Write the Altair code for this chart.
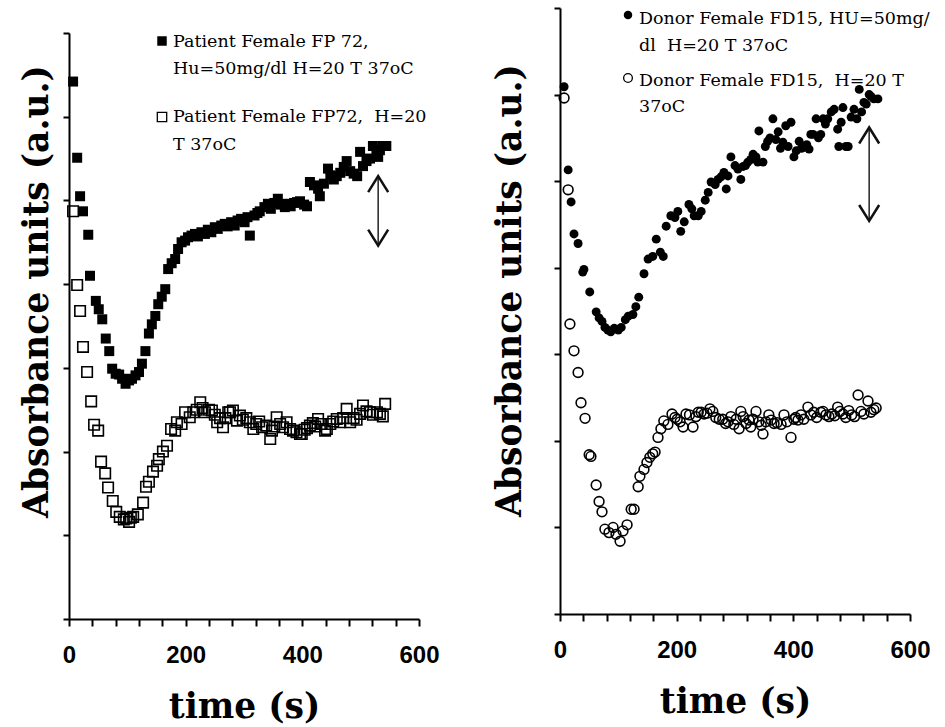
import altair as alt
import pandas as pd

# ---------------- data ----------------
# Left panel: Patient Female FP72
lf_t = [7, 14, 19, 24, 33, 36, 46, 51, 57, 63, 69, 74, 80, 86, 91, 97, 103, 108, 114, 120,
        125, 131, 137, 142, 148, 153, 159, 165, 170, 176, 182, 187, 193, 199, 204, 210, 216,
        221, 227, 233, 238, 244, 250, 255, 261, 267, 272, 278, 284, 289, 295, 301, 306, 310,
        318, 323, 327, 335, 341, 346, 352, 358, 363, 370, 374, 380, 386, 391, 396, 403, 408,
        413, 420, 427, 430, 437, 444, 448, 454, 459, 465, 471, 476, 482, 488, 494, 499, 504,
        510, 516, 521, 527, 530, 533, 538, 544]
lf_y = [6.42, 5.51, 5.05, 4.87, 4.59, 4.10, 3.80, 3.70, 3.58, 3.35, 3.20, 2.99, 2.93, 2.92,
        2.87, 2.81, 2.85, 2.87, 2.91, 2.95, 3.05, 3.20, 3.41, 3.52, 3.62, 3.76, 3.85, 3.94,
        4.18, 4.25, 4.30, 4.42, 4.50, 4.52, 4.56, 4.58, 4.60, 4.57, 4.62, 4.60, 4.65, 4.62,
        4.68, 4.66, 4.70, 4.72, 4.69, 4.74, 4.70, 4.76, 4.78, 4.74, 4.80, 4.58, 4.82, 4.85,
        4.87, 4.92, 4.96, 4.90, 4.97, 5.02, 4.95, 4.92, 4.96, 4.93, 4.97, 4.98, 4.99, 4.95,
        4.93, 5.22, 5.18, 5.14, 5.05, 5.20, 5.38, 5.30, 5.25, 5.29, 5.33, 5.40, 5.47, 5.35,
        5.32, 5.29, 5.58, 5.41, 5.47, 5.50, 5.65, 5.55, 5.52, 5.60, 5.65, 5.65]

lo_t = [7, 14, 19, 24, 31, 38, 43, 50, 55, 62, 67, 75, 81, 87, 94, 98, 103, 106, 110, 118,
        127, 132, 137, 144, 151, 154, 161, 168, 175, 182, 185, 193, 199, 207, 213, 219, 225,
        229, 233, 240, 245, 250, 254, 259, 264, 268, 273, 276, 281, 288, 293, 298, 304, 310,
        316, 321, 326, 331, 338, 345, 348, 352, 356, 362, 367, 373, 379, 384, 390, 396, 399,
        404, 408, 413, 418, 422, 427, 433, 439, 442, 448, 453, 459, 465, 470, 476, 482, 488,
        493, 499, 504, 510, 516, 521, 528, 533, 538, 542]
lo_y = [4.87, 3.99, 3.68, 3.25, 2.95, 2.60, 2.32, 2.25, 1.88, 1.74, 1.57, 1.41, 1.28, 1.22,
        1.19, 1.20, 1.16, 1.21, 1.22, 1.25, 1.39, 1.58, 1.64, 1.76, 1.83, 1.91, 2.00, 2.07,
        2.27, 2.25, 2.35, 2.33, 2.47, 2.41, 2.47, 2.50, 2.59, 2.52, 2.47, 2.50, 2.49, 2.44,
        2.35, 2.40, 2.29, 2.40, 2.47, 2.47, 2.49, 2.37, 2.43, 2.38, 2.40, 2.35, 2.27, 2.33,
        2.36, 2.29, 2.31, 2.15, 2.25, 2.30, 2.41, 2.33, 2.29, 2.35, 2.27, 2.25, 2.23, 2.21,
        2.21, 2.26, 2.28, 2.31, 2.34, 2.30, 2.39, 2.33, 2.25, 2.27, 2.33, 2.36, 2.39, 2.35,
        2.40, 2.51, 2.35, 2.40, 2.38, 2.45, 2.55, 2.48, 2.47, 2.44, 2.47, 2.45, 2.42, 2.57]

# Right panel: Donor Female FD15
rf_t = [7, 14, 19, 24, 31, 39, 41, 51, 62, 67, 72, 77, 82, 87, 93, 100, 105, 112, 117, 125,
        130, 135, 144, 151, 159, 165, 172, 177, 182, 190, 197, 202, 207, 213, 221, 226, 230,
        237, 242, 249, 254, 259, 266, 271, 276, 281, 285, 288, 293, 300, 305, 310, 314, 318,
        322, 327, 331, 336, 339, 341, 348, 352, 356, 360, 365, 370, 374, 378, 382, 387, 391,
        396, 401, 405, 410, 414, 418, 423, 427, 430, 434, 439, 443, 447, 451, 455, 459, 465,
        470, 476, 478, 482, 485, 490, 494, 499, 504, 509, 513, 517, 521, 525, 530, 533, 538,
        545]
rf_y = [6.09, 5.13, 4.76, 4.39, 4.28, 3.95, 3.98, 3.72, 3.49, 3.42, 3.38, 3.31, 3.28, 3.26,
        3.30, 3.28, 3.31, 3.40, 3.44, 3.46, 3.55, 3.66, 3.93, 4.10, 4.13, 4.33, 4.18, 4.13,
        4.48, 4.60, 4.58, 4.65, 4.42, 4.53, 4.73, 4.68, 4.60, 4.60, 4.65, 4.78, 4.87, 4.99,
        4.96, 5.02, 5.05, 5.10, 4.91, 5.06, 5.28, 5.18, 5.14, 5.02, 5.17, 5.18, 5.22, 5.25,
        5.31, 5.28, 5.22, 5.58, 5.22, 5.40, 5.46, 5.50, 5.72, 5.48, 5.57, 5.38, 5.45, 5.64,
        5.40, 5.68, 5.28, 5.35, 5.46, 5.38, 5.39, 5.42, 5.37, 5.54, 5.54, 5.72, 5.50, 5.54,
        5.72, 5.66, 5.72, 5.80, 5.83, 5.60, 5.40, 5.68, 5.85, 5.40, 5.40, 5.74, 5.83, 5.72,
        6.06, 5.80, 5.91, 5.89, 6.00, 5.98, 5.95, 5.95]

ro_t = [7, 14, 17, 24, 31, 36, 43, 50, 53, 62, 67, 72, 77, 84, 91, 96, 103, 108, 115, 122,
        127, 134, 137, 144, 149, 154, 159, 163, 168, 173, 178, 185, 192, 197, 201, 206, 211,
        216, 222, 228, 233, 237, 242, 247, 252, 257, 262, 267, 273, 279, 284, 288, 293, 298,
        302, 307, 310, 314, 319, 324, 327, 331, 336, 341, 345, 348, 353, 358, 362, 367, 372,
        379, 384, 389, 396, 401, 404, 408, 413, 418, 425, 430, 435, 440, 447, 451, 456, 461,
        466, 471, 476, 480, 485, 490, 495, 500, 505, 511, 516, 521, 528, 533, 538, 542]
ro_y = [5.96, 4.90, 3.35, 3.04, 2.79, 2.44, 2.26, 1.84, 1.82, 1.49, 1.30, 1.18, 0.98, 0.94,
        1.00, 0.92, 0.84, 0.96, 1.03, 1.21, 1.21, 1.47, 1.59, 1.67, 1.75, 1.81, 1.85, 1.87,
        2.04, 2.14, 2.23, 2.19, 2.31, 2.27, 2.25, 2.22, 2.16, 2.31, 2.30, 2.16, 2.28, 2.33,
        2.33, 2.31, 2.32, 2.37, 2.34, 2.27, 2.25, 2.25, 2.20, 2.22, 2.28, 2.19, 2.25, 2.14,
        2.34, 2.28, 2.20, 2.24, 2.16, 2.25, 2.34, 2.22, 2.18, 2.08, 2.22, 2.30, 2.24, 2.20,
        2.21, 2.19, 2.30, 2.22, 2.04, 2.25, 2.27, 2.24, 2.30, 2.25, 2.39, 2.30, 2.33, 2.27,
        2.33, 2.34, 2.30, 2.28, 2.31, 2.29, 2.39, 2.34, 2.31, 2.27, 2.35, 2.30, 2.28, 2.53,
        2.34, 2.31, 2.46, 2.33, 2.36, 2.38]

# double-headed arrows (time, lower end, upper end)
left_arrow = {"t": [530], "y0": [4.46], "y1": [5.29]}
right_arrow = {"t": [530], "y0": [4.54], "y1": [5.62]}

x_ticks = [0, 40, 80, 120, 160, 200, 240, 280, 320, 360, 400, 440, 480, 520, 560, 600]
y_ticks = [0, 1, 2, 3, 4, 5, 6, 7]

left_legend = ["Patient Female FP 72,", "Hu=50mg/dl H=20 T 37oC",
               "Patient Female FP72,\u00a0 H=20", "T 37oC"]
right_legend = ["Donor Female FD15, HU=50mg/", "dl\u00a0 H=20 T 37oC",
                "Donor Female FD15,\u00a0 H=20 T", "37oC"]

X_TITLE = "time (s)"
Y_TITLE = "Absorbance units (a.u.)"

# ---------------- chart ----------------
SERIF = "DejaVu Serif"
one = pd.DataFrame({"k": [0]})
up_path = "M -1 1.6 L 0 0 L 1 1.6"
down_path = "M -1 -1.6 L 0 0 L 1 -1.6"


def panel(filled_t, filled_y, open_t, open_y, shape, fsize, osize, arrow, legend,
          height, title_x, title_y, leg_x, leg_ys, sym_x, sym_ys):
    xs = alt.Scale(domain=[0, 600], nice=False, zero=False)
    ys = alt.Scale(domain=[0, 7], nice=False)
    xaxis = alt.Axis(values=x_ticks, labelExpr="datum.value % 200 == 0 ? datum.label : ''",
                     tickSize=7, labelPadding=17, titlePadding=23, labelFlush=False,
                     labelOverlap=False, labelBound=False)
    yaxis = alt.Axis(values=y_ticks, labels=False, tickSize=6, titleX=title_x,
                     titleY=title_y, titleBaseline="bottom", titleAngle=270)

    def X(field):
        return alt.X(field, scale=xs, axis=xaxis, title=X_TITLE)

    def Y(field):
        return alt.Y(field, scale=ys, axis=yaxis, title=Y_TITLE)

    df_f = pd.DataFrame({"t": filled_t, "a": filled_y})
    df_o = pd.DataFrame({"t": open_t, "a": open_y})
    opened = alt.Chart(df_o).mark_point(shape=shape, filled=False, size=osize, color="black",
                                        strokeWidth=1.6, opacity=1).encode(
        x=X("t:Q"), y=Y("a:Q"))
    filled = alt.Chart(df_f).mark_point(shape=shape, filled=True, size=fsize, color="black",
                                        opacity=1).encode(
        x=X("t:Q"), y=Y("a:Q"))
    adf = pd.DataFrame(arrow)
    rule = alt.Chart(adf).mark_rule(color="#222222", strokeWidth=1.5).encode(
        x=X("t:Q"), y=Y("y0:Q"), y2="y1:Q")
    head_up = alt.Chart(adf).mark_point(shape=up_path, size=400, filled=False, color="#111111",
                                        strokeWidth=2.5, opacity=1).encode(
        x=X("t:Q"), y=Y("y1:Q"))
    head_dn = alt.Chart(adf).mark_point(shape=down_path, size=400, filled=False, color="#111111",
                                        strokeWidth=2.5, opacity=1).encode(
        x=X("t:Q"), y=Y("y0:Q"))
    layers = [opened, filled, rule, head_up, head_dn]
    for line, ly in zip(legend, leg_ys):
        layers.append(alt.Chart(one).mark_text(align="left", baseline="middle", font=SERIF,
                                               fontSize=17.5, color="black", text=line).encode(
            x=alt.value(leg_x), y=alt.value(ly)))
    layers.append(alt.Chart(one).mark_point(shape=shape, filled=True, size=fsize * 0.9,
                                            color="black", opacity=1).encode(
        x=alt.value(sym_x), y=alt.value(sym_ys[0])))
    layers.append(alt.Chart(one).mark_point(shape=shape, filled=False, size=osize * 0.8,
                                            color="black", strokeWidth=1.3, opacity=1).encode(
        x=alt.value(sym_x), y=alt.value(sym_ys[1])))
    return alt.layer(*layers).properties(width=350, height=height)


left_panel = panel(lf_t, lf_y, lo_t, lo_y, "square", 100, 110, left_arrow, left_legend,
                   586, -15, 258, 104, [9, 36, 84, 112], 93, [8, 84])
right_panel = panel(rf_t, rf_y, ro_t, ro_y, "circle", 80, 95, right_arrow, right_legend,
                    606, -33, 282, 79, [11, 38, 73, 99], 68, [7, 70])

# empty strip that lowers the left panel relative to the right one
spacer = alt.Chart(one).mark_point(opacity=0).encode(
    x=alt.value(0), y=alt.value(0)).properties(width=350, height=24)
left = alt.vconcat(spacer, left_panel, spacing=0)

chart = alt.hconcat(left, right_panel, spacing=51).properties(
    padding={"left": 18, "top": 5, "right": 5, "bottom": 5},
    background="white"
).configure_view(stroke=None).configure_axis(
    grid=False, domainColor="black", domainWidth=2, tickColor="black", tickWidth=2,
    labelFont="Liberation Sans", labelFontWeight="bold", labelFontSize=24, labelColor="black",
    titleFont=SERIF, titleFontWeight="bold", titleFontSize=34.5, titleColor="black",
    labelOverlap=False
)

chart.save("out.html", embed_options={"renderer": "svg", "actions": False})
